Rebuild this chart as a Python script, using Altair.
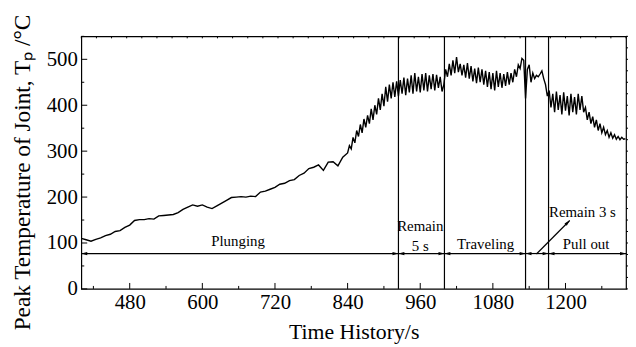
import altair as alt
import pandas as pd

FONT = "Liberation Serif"

# ---- data ----
early_temp = [110, 107, 104, 108, 111, 116, 119, 125, 127, 134,
              139, 149, 151, 151, 153, 152, 159, 160, 161, 162,
              166, 173, 178, 183, 180, 183, 178, 175, 181, 187,
              193, 199, 200, 201, 200, 202, 201, 211, 213, 217,
              221, 228, 230, 236, 238, 247, 252, 262, 265, 270,
              258, 276, 277, 268, 287]
early_time = list(range(400, 400 + 8 * len(early_temp), 8))

noisy_temp = [296, 312, 305, 330, 318, 345, 332, 358, 340, 370,
              352, 378, 360, 392, 368, 400, 380, 415, 390, 425,
              398, 440, 408, 445, 415, 450, 418, 452, 420, 455,
              425, 460, 422, 458, 428, 465, 425, 470, 430, 462,
              428, 468, 432, 470, 430, 465, 435, 468, 432, 466,
              438, 462, 430, 445, 478, 462, 490, 465, 498, 470,
              505, 472, 490, 465, 488, 460, 492, 458, 485, 452,
              480, 448, 482, 450, 478, 445, 475, 440, 472, 435,
              470, 432, 475, 440, 470, 438, 468, 442, 472, 445,
              470, 450, 478, 462, 488, 480, 502, 498, 415, 478,
              488, 450, 470, 458, 465, 462, 468, 475, 458, 445,
              420, 432, 395, 425, 385, 430, 390, 422, 380, 428,
              388, 420, 378, 425, 385, 418, 380, 425, 390, 420,
              385, 395, 368, 385, 360, 375, 352, 368, 345, 360,
              340, 352, 336, 345, 330, 340, 328, 336, 326, 332,
              325, 330, 326, 327]
noisy_time = list(range(840, 840 + 3 * len(noisy_temp), 3))

phase_bounds = [924, 1000, 1134, 1172]
seg_start = [400, 924, 1000, 1134, 1172]
seg_end = [924, 1000, 1134, 1172, 1300]
arrow_level = 77

label_text = ["Plunging", "Remain", "5 s", "Traveling", "Remain 3 s", "Pull out"]
label_t = [659, 960, 960, 1068, 1228, 1234]
label_T = [93, 126, 83, 88, 156, 86]

diag_from = (1152, 76)
diag_to = (1207, 149)

x_major = [480, 600, 720, 840, 960, 1080, 1200]
x_minor = [420, 540, 660, 780, 900, 1020, 1140, 1260]
y_major = [0, 100, 200, 300, 400, 500]
y_minor = [50, 150, 250, 350, 450, 550]
x_fine = list(range(400, 1301, 25))
y_fine = list(range(0, 551, 25))

X_DOM = [400, 1300]
Y_DOM = [0, 550]

# ---- tables ----
curve = pd.DataFrame({"t": early_time + noisy_time, "T": early_temp + noisy_temp})
segs = pd.DataFrame({"a": seg_start, "b": seg_end, "y": [arrow_level] * len(seg_start)})
labels = pd.DataFrame({"label": label_text, "t": label_t, "T": label_T})
bounds = pd.DataFrame({"t": phase_bounds})

xs = alt.Scale(domain=X_DOM, nice=False, zero=False)
ys = alt.Scale(domain=Y_DOM, nice=False, zero=True)

x_axis = alt.Axis(values=x_major, format="d", title="Time History/s", ticks=False,
                  domain=False, grid=False, labelFont=FONT, labelFontSize=21,
                  labelColor="black", labelPadding=3, titleFont=FONT, titleFontSize=22,
                  titleColor="black", titleFontWeight="normal", titleY=50,
                  titleBaseline="alphabetic")
y_axis = alt.Axis(values=y_major, format="d", title="Peak Temperature of Joint, Tₚ /°C",
                  ticks=False, domain=False, grid=False, labelFont=FONT, labelFontSize=21,
                  labelColor="black", labelPadding=4, titleFont=FONT, titleFontSize=23.5,
                  titleColor="black", titleFontWeight="normal", titleX=-59, titleY=137,
                  titleBaseline="middle", titleAngle=270)


def X(field):
    return alt.X(field, scale=xs, axis=x_axis)


def Y(field):
    return alt.Y(field, scale=ys, axis=y_axis)


line = alt.Chart(curve).mark_line(color="black", strokeWidth=1.4).encode(
    x=X("t:Q"), y=Y("T:Q"))

vlines = alt.Chart(bounds).mark_rule(color="black", strokeWidth=1.2).encode(
    x=X("t:Q"))

arrows = alt.Chart(segs).mark_rule(color="black", strokeWidth=1.2).encode(
    x=X("a:Q"), x2="b:Q", y=Y("y:Q"))

left_head = "M-1,0L1,-0.55L1,0.55Z"
right_head = "M1,0L-1,-0.55L-1,0.55Z"
up_head = "M0,-1L-0.55,1L0.55,1Z"

heads_l = alt.Chart(segs).mark_point(shape=left_head, filled=True, color="black",
                                     size=36, opacity=1, xOffset=3).encode(
    x=X("a:Q"), y=Y("y:Q"))
heads_r = alt.Chart(segs).mark_point(shape=right_head, filled=True, color="black",
                                     size=36, opacity=1, xOffset=-3).encode(
    x=X("b:Q"), y=Y("y:Q"))

diag = pd.DataFrame({"a": [diag_from[0]], "b": [diag_to[0]],
                     "c": [diag_from[1]], "d": [diag_to[1]]})
diag_line = alt.Chart(diag).mark_rule(color="black", strokeWidth=1.2).encode(
    x=X("a:Q"), x2="b:Q", y=Y("c:Q"), y2="d:Q")
diag_head = alt.Chart(diag).mark_point(shape=up_head, filled=True, color="black",
                                       size=36, opacity=1, angle=45,
                                       xOffset=-2, yOffset=2).encode(
    x=X("b:Q"), y=Y("d:Q"))

texts = alt.Chart(labels).mark_text(font=FONT, fontSize=15, color="black",
                                    baseline="alphabetic", align="center").encode(
    x=X("t:Q"), y=Y("T:Q"), text="label:N")

# inward / frame ticks
px_x = (X_DOM[1] - X_DOM[0]) / 550.0
px_y = (Y_DOM[1] - Y_DOM[0]) / 255.0


def hticks(vals, length):
    return pd.DataFrame({"t": vals, "y0": [Y_DOM[0]] * len(vals),
                         "y1": [Y_DOM[0] + length * px_y] * len(vals)})


def vticks(vals, length):
    return pd.DataFrame({"T": vals, "x0": [X_DOM[0]] * len(vals),
                         "x1": [X_DOM[0] + length * px_x] * len(vals)})


bt = pd.concat([hticks(x_major, 6), hticks(x_minor, 3)])
lt = pd.concat([vticks(y_major, 6), vticks(y_minor, 3)])
tt = pd.DataFrame({"t": x_fine, "y0": [Y_DOM[1]] * len(x_fine),
                   "y1": [Y_DOM[1] - 2 * px_y] * len(x_fine)})
rt = pd.DataFrame({"T": y_fine, "x0": [X_DOM[1]] * len(y_fine),
                   "x1": [X_DOM[1] + 2.5 * px_x] * len(y_fine)})


def vrule(df):
    return alt.Chart(df).mark_rule(color="black", strokeWidth=1, clip=False).encode(
        x=X("t:Q"), y=Y("y0:Q"), y2="y1:Q")


def hrule(df):
    return alt.Chart(df).mark_rule(color="black", strokeWidth=1, clip=False).encode(
        y=Y("T:Q"), x=X("x0:Q"), x2="x1:Q")


chart = alt.layer(
    line, vlines, arrows, heads_l, heads_r, diag_line, diag_head, texts,
    vrule(bt), vrule(tt), hrule(lt), hrule(rt),
).properties(
    width=550, height=255,
    background="white",
    autosize=alt.AutoSizeParams(type="none"),
    padding={"left": 74, "top": 27, "right": 2, "bottom": 55},
).configure_view(
    stroke="black", strokeWidth=1.2
)

chart.save("out.html", embed_options={"renderer": "svg", "actions": False})
